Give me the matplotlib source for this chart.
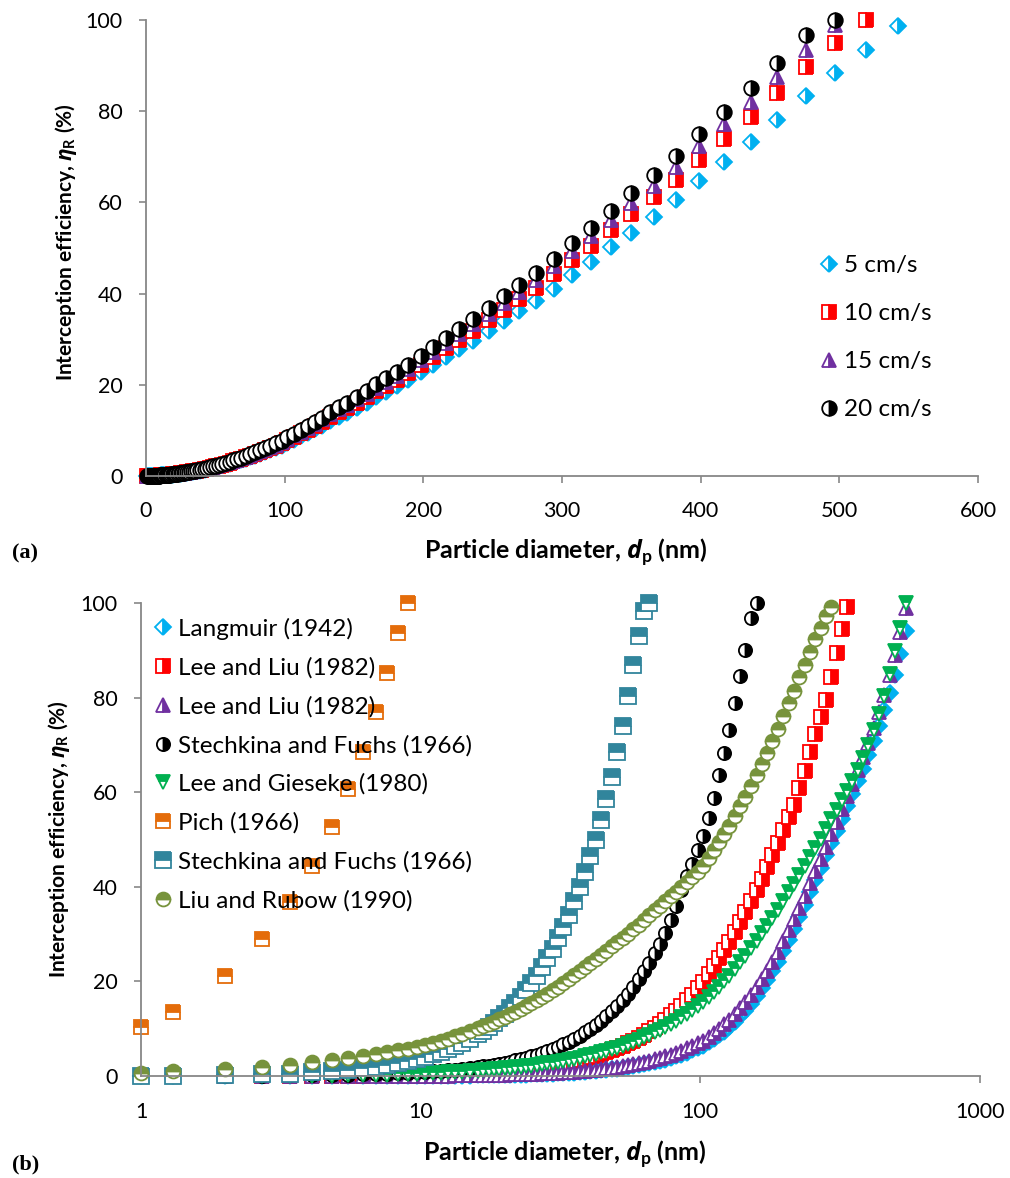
import matplotlib
matplotlib.use("Agg")
import matplotlib.pyplot as plt
from matplotlib.ticker import FixedLocator, FixedFormatter, NullLocator

# particle diameter grid (nm), shared by every series
DP = [1.0, 1.3, 2.0, 2.7, 3.4, 4.1, 4.8, 5.5, 6.2, 6.9,
      7.6, 8.3, 9.0, 9.7, 10.4, 11.1, 11.8, 12.5, 13.3, 14.1,
      15.0, 16.0, 16.7, 17.5, 18.3, 19.1, 20.0, 20.9, 21.8, 22.8,
      23.8, 24.9, 26.0, 27.2, 28.4, 29.7, 31.0, 32.4, 33.9, 35.4,
      37.0, 38.7, 40.4, 42.2, 44.1, 46.1, 48.2, 50.4, 52.7, 55.1,
      57.6, 60.2, 62.9, 65.7, 68.7, 71.8, 75.0, 78.4, 81.9, 85.6,
      89.5, 93.5, 97.7, 102, 107, 112, 117, 122, 127, 133,
      139, 145, 152, 159, 166, 173, 181, 189, 198, 207,
      216, 226, 236, 247, 258, 269, 281, 294, 307, 321,
      335, 350, 366, 382, 399, 417, 436, 455, 476, 497,
      519, 542, 566]

# ---- panel (a): face velocities ----
ETA_5 = [0.00, 0.00, 0.00, 0.01, 0.01, 0.02, 0.03, 0.03, 0.04, 0.05,
         0.06, 0.07, 0.08, 0.09, 0.10, 0.12, 0.13, 0.15, 0.16, 0.18,
         0.21, 0.23, 0.25, 0.28, 0.30, 0.33, 0.35, 0.38, 0.41, 0.45,
         0.48, 0.53, 0.57, 0.62, 0.67, 0.73, 0.79, 0.86, 0.94, 1.02,
         1.10, 1.21, 1.30, 1.41, 1.53, 1.67, 1.81, 1.97, 2.14, 2.33,
         2.53, 2.74, 2.97, 3.22, 3.50, 3.80, 4.12, 4.47, 4.84, 5.26,
         5.70, 6.17, 6.68, 7.3, 8.0, 8.7, 9.5, 10.3, 11.0, 12.1,
         13.0, 13.9, 15.0, 16.1, 17.3, 18.4, 19.7, 21.0, 22.8, 24.4,
         26.0, 27.8, 29.7, 31.8, 34.0, 36.1, 38.4, 41.1, 44.1, 47.0,
         50.2, 53.4, 56.9, 60.5, 64.6, 68.9, 73.3, 78.1, 83.4, 88.4,
         93.5, 98.7]
ETA_10 = [0.00, 0.00, 0.00, 0.01, 0.01, 0.02, 0.03, 0.04, 0.05, 0.06,
          0.06, 0.07, 0.08, 0.10, 0.11, 0.13, 0.14, 0.16, 0.18, 0.19,
          0.22, 0.25, 0.27, 0.30, 0.32, 0.35, 0.38, 0.41, 0.44, 0.48,
          0.52, 0.56, 0.61, 0.67, 0.72, 0.79, 0.85, 0.93, 1.01, 1.09,
          1.19, 1.30, 1.40, 1.52, 1.65, 1.80, 1.94, 2.11, 2.30, 2.50,
          2.71, 2.94, 3.19, 3.46, 3.76, 4.08, 4.43, 4.80, 5.20, 5.65,
          6.12, 6.63, 7.18, 7.9, 8.6, 9.4, 10.2, 11.0, 11.9, 13.0,
          14.0, 14.9, 16.1, 17.3, 18.6, 19.8, 21.1, 22.6, 24.4, 26.2,
          28.0, 29.8, 31.9, 34.2, 36.5, 38.8, 41.2, 44.2, 47.4, 50.5,
          53.9, 57.4, 61.1, 65.0, 69.4, 74.0, 78.7, 83.9, 89.6, 95.0,
          100.0]
ETA_15 = [0.00, 0.00, 0.00, 0.01, 0.01, 0.02, 0.03, 0.04, 0.05, 0.06,
          0.07, 0.08, 0.09, 0.11, 0.12, 0.14, 0.14, 0.16, 0.18, 0.20,
          0.23, 0.26, 0.28, 0.31, 0.34, 0.37, 0.40, 0.42, 0.46, 0.50,
          0.54, 0.59, 0.64, 0.69, 0.75, 0.82, 0.89, 0.97, 1.05, 1.14,
          1.24, 1.35, 1.46, 1.58, 1.72, 1.87, 2.03, 2.20, 2.39, 2.61,
          2.83, 3.07, 3.33, 3.61, 3.92, 4.26, 4.61, 5.00, 5.42, 5.89,
          6.38, 6.91, 7.48, 8.2, 9.0, 9.7, 10.6, 11.5, 12.4, 13.5,
          14.6, 15.5, 16.8, 18.0, 19.4, 20.7, 22.0, 23.5, 25.5, 27.3,
          29.1, 31.1, 33.3, 35.6, 38.0, 40.4, 42.9, 46.0, 49.4, 52.6,
          56.2, 59.8, 63.7, 67.7, 72.3, 77.1, 82.0, 87.4, 93.4, 99.0]
ETA_20 = [0.00, 0.00, 0.00, 0.01, 0.01, 0.02, 0.03, 0.04, 0.05, 0.06,
          0.07, 0.08, 0.09, 0.11, 0.12, 0.14, 0.15, 0.17, 0.19, 0.21,
          0.24, 0.27, 0.29, 0.32, 0.35, 0.38, 0.41, 0.44, 0.48, 0.52,
          0.56, 0.61, 0.66, 0.72, 0.78, 0.85, 0.92, 1.00, 1.09, 1.18,
          1.28, 1.40, 1.51, 1.64, 1.78, 1.94, 2.10, 2.28, 2.48, 2.70,
          2.93, 3.18, 3.45, 3.74, 4.06, 4.41, 4.78, 5.18, 5.62, 6.10,
          6.61, 7.16, 7.75, 8.5, 9.3, 10.1, 11.0, 11.9, 12.8, 14.0,
          15.1, 16.1, 17.4, 18.7, 20.1, 21.4, 22.8, 24.4, 26.4, 28.3,
          30.2, 32.2, 34.5, 36.9, 39.4, 41.9, 44.5, 47.7, 51.2, 54.5,
          58.2, 62.0, 66.0, 70.2, 74.9, 79.9, 85.0, 90.6, 96.8, 100.0]

# ---- panel (b): models ----
LANGMUIR = [0.00, 0.00, 0.00, 0.00, 0.00, 0.00, 0.00, 0.01, 0.01, 0.01,
            0.02, 0.02, 0.03, 0.03, 0.04, 0.05, 0.06, 0.07, 0.08, 0.09,
            0.10, 0.12, 0.13, 0.15, 0.16, 0.18, 0.20, 0.22, 0.25, 0.27,
            0.30, 0.33, 0.37, 0.41, 0.45, 0.50, 0.55, 0.60, 0.66, 0.73,
            0.80, 0.88, 0.97, 1.06, 1.17, 1.28, 1.41, 1.54, 1.69, 1.85,
            2.03, 2.22, 2.43, 2.66, 2.91, 3.18, 3.48, 3.80, 4.15, 4.53,
            4.94, 5.39, 5.88, 6.4, 7.1, 7.8, 8.6, 9.4, 10.3, 11.4,
            12.6, 13.8, 15.3, 16.9, 18.5, 20.2, 22.2, 24.2, 26.5, 28.8,
            31.1, 33.6, 36.1, 38.8, 41.4, 44.0, 46.7, 49.3, 51.8, 54.4,
            57.0, 59.6, 62.3, 65.0, 67.9, 70.9, 74.0, 77.3, 81.0, 84.8,
            89.3, 94.0]
LEE_LIU_A = [0.00, 0.00, 0.01, 0.02, 0.03, 0.04, 0.06, 0.08, 0.10, 0.13,
             0.16, 0.19, 0.22, 0.26, 0.30, 0.34, 0.38, 0.43, 0.48, 0.54,
             0.61, 0.69, 0.75, 0.82, 0.89, 0.97, 1.05, 1.14, 1.24, 1.35,
             1.46, 1.59, 1.72, 1.87, 2.03, 2.21, 2.40, 2.60, 2.83, 3.07,
             3.33, 3.62, 3.92, 4.25, 4.61, 5.00, 5.42, 5.87, 6.36, 6.89,
             7.46, 8.07, 8.73, 9.44, 10.2, 11.0, 11.9, 12.8, 13.8, 14.9,
             16.0, 17.2, 18.5, 19.9, 21.5, 23.2, 24.9, 26.6, 28.3, 30.4,
             32.5, 34.6, 37.0, 39.3, 41.7, 44.1, 46.7, 49.3, 52.0, 54.8,
             57.4, 60.9, 64.5, 68.5, 72.4, 75.8, 79.5, 84.3, 89.5, 94.5,
             99.2]
LEE_LIU_B = [0.00, 0.00, 0.00, 0.00, 0.00, 0.00, 0.01, 0.01, 0.02, 0.02,
             0.03, 0.04, 0.05, 0.06, 0.07, 0.08, 0.09, 0.10, 0.12, 0.14,
             0.16, 0.18, 0.20, 0.22, 0.24, 0.26, 0.29, 0.32, 0.35, 0.38,
             0.42, 0.46, 0.50, 0.55, 0.60, 0.66, 0.72, 0.79, 0.86, 0.94,
             1.03, 1.13, 1.23, 1.34, 1.47, 1.60, 1.75, 1.91, 2.08, 2.27,
             2.48, 2.70, 2.94, 3.20, 3.49, 3.80, 4.14, 4.51, 4.91, 5.35,
             5.82, 6.33, 6.90, 7.5, 8.3, 9.1, 10.0, 10.9, 11.9, 13.1,
             14.4, 15.7, 17.2, 18.8, 20.5, 22.2, 24.2, 26.2, 28.5, 30.8,
             33.1, 35.6, 38.1, 40.8, 43.4, 45.9, 48.5, 51.2, 53.8, 56.5,
             59.1, 61.8, 64.6, 67.4, 70.4, 73.6, 77.0, 80.6, 84.7, 89.0,
             93.8, 98.9]
STECHKINA_A = [0.01, 0.02, 0.04, 0.08, 0.12, 0.16, 0.22, 0.27, 0.34, 0.41,
               0.49, 0.58, 0.67, 0.76, 0.86, 0.97, 1.09, 1.20, 1.35, 1.50,
               1.67, 1.88, 2.03, 2.21, 2.39, 2.58, 2.80, 3.04, 3.28, 3.55,
               3.84, 4.16, 4.50, 4.88, 5.27, 5.71, 6.17, 6.68, 7.25, 7.84,
               8.49, 9.21, 9.95, 10.8, 11.6, 12.6, 13.7, 14.8, 16.1, 17.4,
               18.8, 20.4, 22.1, 23.9, 25.9, 28.0, 30.3, 33.0, 36.0, 39.3,
               42.3, 44.8, 47.8, 50.8, 54.5, 58.8, 63.6, 68.2, 73.2, 78.9,
               84.5, 90.0, 96.9, 100.0]
GIESEKE = [0.00, 0.00, 0.01, 0.02, 0.04, 0.06, 0.09, 0.13, 0.18, 0.23,
           0.29, 0.35, 0.41, 0.47, 0.54, 0.61, 0.68, 0.76, 0.85, 0.94,
           1.04, 1.15, 1.23, 1.32, 1.41, 1.50, 1.60, 1.71, 1.82, 1.94,
           2.06, 2.20, 2.34, 2.50, 2.66, 2.84, 3.02, 3.22, 3.43, 3.65,
           3.89, 4.14, 4.40, 4.68, 4.98, 5.30, 5.64, 6.00, 6.38, 6.79,
           7.22, 7.68, 8.16, 8.67, 9.22, 9.80, 10.4, 11.0, 11.7, 12.4,
           13.1, 13.9, 14.7, 15.6, 16.6, 17.7, 18.8, 20.0, 21.2, 22.6,
           24.0, 25.4, 27.0, 28.6, 30.2, 31.8, 33.5, 35.2, 37.0, 38.8,
           40.6, 42.5, 44.4, 46.4, 48.3, 50.2, 52.2, 54.3, 56.3, 58.3,
           60.3, 62.4, 64.7, 67.2, 70.0, 73.1, 76.6, 80.4, 85.0, 89.8,
           94.8, 100.0]
PICH = [10.4, 13.5, 21.1, 29.0, 36.7, 44.5, 52.6, 60.7, 68.6, 77.0,
        85.2, 93.7, 100.0]
STECHKINA_B = [0.1, 0.1, 0.2, 0.35, 0.5, 0.75, 1.0, 1.3, 1.6, 1.9,
               2.3, 2.7, 3.1, 3.6, 4.1, 4.6, 5.1, 5.7, 6.3, 7.0,
               7.9, 8.8, 9.6, 10.4, 11.3, 12.2, 13.2, 14.3, 15.4, 16.7,
               18.1, 19.6, 21.2, 23.0, 24.9, 26.9, 29.1, 31.5, 34.1, 37.0,
               40.0, 43.2, 46.5, 50.0, 54.2, 58.5, 63.3, 68.4, 74.0, 80.3,
               86.8, 93.0, 98.3, 100.0]
LIU_RUBOW = [0.7, 1.0, 1.5, 2.0, 2.4, 2.9, 3.3, 3.8, 4.2, 4.6,
             5.0, 5.4, 5.8, 6.2, 6.6, 7.0, 7.5, 7.9, 8.4, 8.9,
             9.5, 10.1, 10.5, 11.0, 11.5, 12.0, 12.5, 13.0, 13.6, 14.2,
             14.8, 15.4, 16.0, 16.7, 17.4, 18.2, 18.9, 19.7, 20.5, 21.3,
             22.1, 23.0, 23.8, 24.7, 25.6, 26.5, 27.4, 28.3, 29.2, 30.1,
             31.0, 32.0, 33.0, 34.0, 35.0, 36.0, 37.0, 38.0, 39.0, 40.0,
             41.0, 42.0, 43.2, 44.5, 46.1, 47.8, 49.5, 51.2, 52.9, 55.0,
             57.0, 59.0, 61.3, 63.6, 66.0, 68.3, 70.9, 73.4, 76.2, 78.9,
             81.5, 84.3, 87.0, 89.7, 92.3, 94.7, 97.2, 99.2]

TOP_LABELS = ["5 cm/s", "10 cm/s", "15 cm/s", "20 cm/s"]
BOTTOM_LABELS = ["Langmuir (1942)", "Lee and Liu (1982)", "Lee and Liu (1982)",
                 "Stechkina and Fuchs (1966)", "Lee and Gieseke (1980)",
                 "Pich (1966)", "Stechkina and Fuchs (1966)", "Liu and Rubow (1990)"]

CYAN = "#00B0F0"
RED = "#FF0000"
PURPLE = "#7030A0"
GREEN = "#00B050"
ORANGE = "#E46C0A"
TEAL = "#31859C"
OLIVE = "#77933C"
GREY = "#878787"

plt.rcParams["font.family"] = ["Lato", "DejaVu Sans"]
plt.rcParams["mathtext.fontset"] = "custom"
plt.rcParams["mathtext.rm"] = "Lato:bold"
plt.rcParams["mathtext.bf"] = "Lato:bold"
plt.rcParams["mathtext.it"] = "Open Sans:italic:bold"

XLABEL = r"Particle diameter, $d_{\mathrm{p}}$ (nm)"
YLABEL = r"Interception efficiency, $\eta_{\mathrm{R}}$ (%)"


def series(ax, y, marker, color, fill, ms, label):
    ax.plot(DP[:len(y)], y, ls="none", marker=marker, ms=ms, mfc=color,
            mec=color, mfcalt="white", fillstyle=fill, mew=1.3,
            clip_on=False, label=label)


def style_axes(ax, xpad):
    for s in ["top", "right"]:
        ax.spines[s].set_visible(False)
    for s in ["left", "bottom"]:
        ax.spines[s].set_color(GREY)
        ax.spines[s].set_linewidth(1.3)
    ax.tick_params(axis="both", colors=GREY, labelcolor="black",
                   labelsize=15.5, length=5, width=1.2, direction="out")
    ax.tick_params(axis="y", pad=12)
    ax.tick_params(axis="x", pad=xpad)
    ax.set_ylim(0, 100)
    ax.set_yticks([0, 20, 40, 60, 80, 100])


fig = plt.figure(figsize=(10.1, 11.78), dpi=100)

# (a)
ax1 = fig.add_axes([0.1446, 0.5959, 0.8238, 0.3871])
series(ax1, ETA_5, "D", CYAN, "right", 8, TOP_LABELS[0])
series(ax1, ETA_10, "s", RED, "right", 9.5, TOP_LABELS[1])
series(ax1, ETA_15, "^", PURPLE, "right", 10, TOP_LABELS[2])
series(ax1, ETA_20, "o", "black", "right", 10.5, TOP_LABELS[3])
style_axes(ax1, 13)
ax1.set_xlim(0, 600)
ax1.set_xticks([0, 100, 200, 300, 400, 500, 600])
ax1.set_xlabel(XLABEL, fontsize=18, fontweight="bold")
ax1.set_ylabel(YLABEL, fontsize=15, fontweight="bold")
ax1.xaxis.set_label_coords(0.504, -0.132)
ax1.yaxis.set_label_coords(-0.08, 0.513)
ax1.legend(loc="upper left", bbox_to_anchor=(0.812, 0.484), frameon=False,
           fontsize=17.5, handlelength=0.6, handletextpad=0.3, labelspacing=1.11,
           borderpad=0, borderaxespad=0, numpoints=1)

# (b)
ax2 = fig.add_axes([0.1396, 0.0866, 0.8307, 0.4015])
series(ax2, LANGMUIR, "D", CYAN, "right", 8, BOTTOM_LABELS[0])
series(ax2, LEE_LIU_A, "s", RED, "right", 9.5, BOTTOM_LABELS[1])
series(ax2, LEE_LIU_B, "^", PURPLE, "right", 10, BOTTOM_LABELS[2])
series(ax2, STECHKINA_A, "o", "black", "right", 9.5, BOTTOM_LABELS[3])
series(ax2, GIESEKE, "v", GREEN, "top", 10.5, BOTTOM_LABELS[4])
series(ax2, PICH, "s", ORANGE, "top", 10.5, BOTTOM_LABELS[5])
series(ax2, STECHKINA_B, "s", TEAL, "top", 12, BOTTOM_LABELS[6])
series(ax2, LIU_RUBOW, "o", OLIVE, "top", 10, BOTTOM_LABELS[7])
style_axes(ax2, 14)
ax2.set_xscale("log")
ax2.set_xlim(1, 1000)
ax2.xaxis.set_major_locator(FixedLocator([1, 10, 100, 1000]))
ax2.xaxis.set_major_formatter(FixedFormatter(["1", "10", "100", "1000"]))
ax2.xaxis.set_minor_locator(NullLocator())
ax2.set_xlabel(XLABEL, fontsize=18, fontweight="bold")
ax2.set_ylabel(YLABEL, fontsize=15, fontweight="bold")
ax2.xaxis.set_label_coords(0.505, -0.133)
ax2.yaxis.set_label_coords(-0.082, 0.5)
ax2.legend(loc="upper left", bbox_to_anchor=(0.0175, 0.969), frameon=False,
           fontsize=17.5, handlelength=0.6, handletextpad=0.3, labelspacing=0.71,
           borderpad=0, borderaxespad=0, numpoints=1)

fig.text(0.012, 1 - 553 / 1178, "(a)", family="Liberation Serif", weight="bold",
         fontsize=16, va="center")
fig.text(0.012, 1 - 1164 / 1178, "(b)", family="Liberation Serif", weight="bold",
         fontsize=16, va="center")

fig.savefig("out.png", dpi=100)
